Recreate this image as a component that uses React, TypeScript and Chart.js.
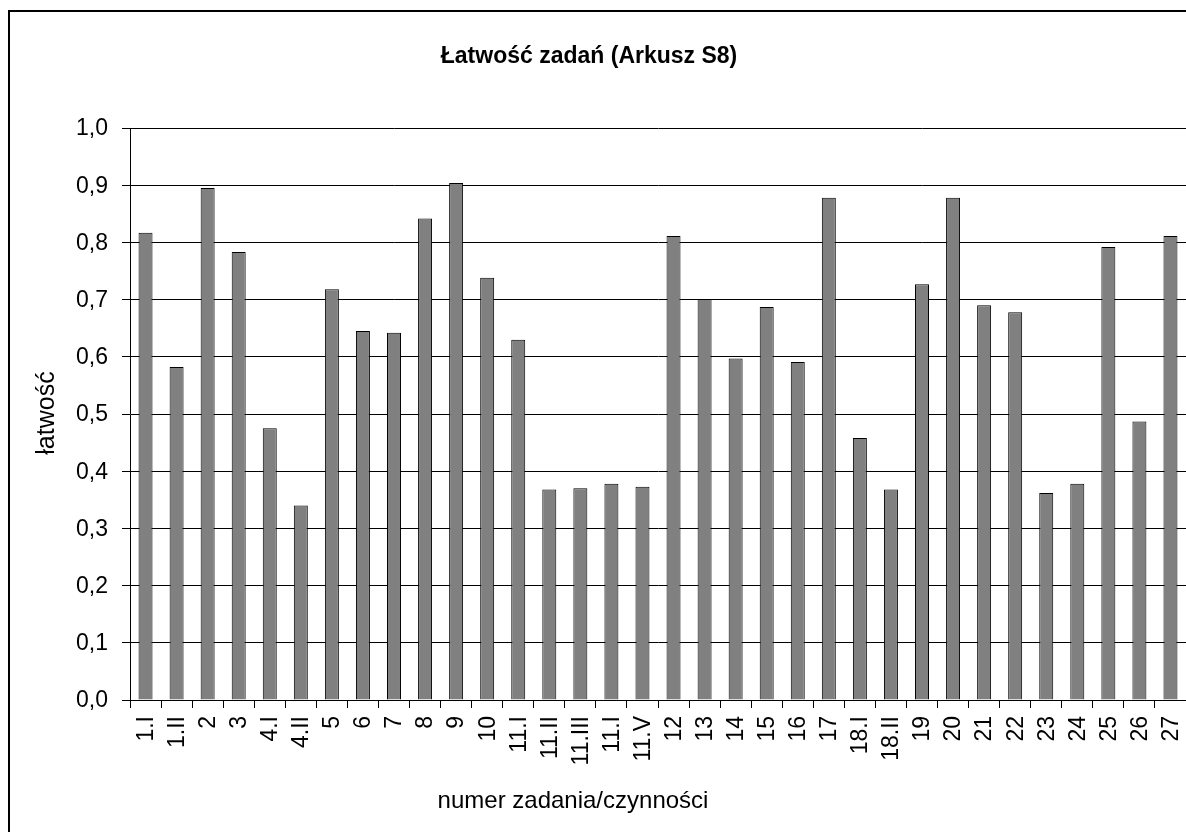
import React, { useEffect, useRef } from "react";
import { Chart, registerables } from "chart.js";

Chart.register(...registerables);

const categories: string[] = [
  "1.I", "1.II", "2", "3", "4.I", "4.II", "5", "6", "7", "8", "9", "10",
  "11.I", "11.II", "11.III", "11.I", "11.V", "12", "13", "14", "15", "16", "17",
  "18.I", "18.II", "19", "20", "21", "22", "23", "24", "25", "26", "27",
];

const easiness: number[] = [
  0.817, 0.582, 0.895, 0.783, 0.475, 0.34, 0.718, 0.645, 0.642, 0.842, 0.904, 0.738,
  0.63, 0.368, 0.37, 0.378, 0.373, 0.811, 0.701, 0.597, 0.687, 0.591, 0.878,
  0.458, 0.368, 0.727, 0.878, 0.69, 0.678, 0.362, 0.378, 0.792, 0.487, 0.811,
];

const chartTitle = "Łatwość zadań (Arkusz S8)";
const xTitle = "numer zadania/czynności";
const yTitle = "łatwość";

const FONT = "'Liberation Sans', Arial, sans-serif";

const fmt = (v: number) => Number(v).toFixed(1).replace(".", ",");

function drawText(
  ctx: CanvasRenderingContext2D,
  text: string,
  x: number,
  y: number,
  align: CanvasTextAlign,
  rotate: boolean
) {
  ctx.save();
  ctx.translate(x, y);
  if (rotate) ctx.rotate(-Math.PI / 2);
  ctx.textAlign = align;
  ctx.textBaseline = "middle";
  ctx.fillText(text, 0, 0);
  ctx.restore();
}

const framePlugin = {
  id: "frame",
  afterDraw(chart: any) {
    const ctx = chart.ctx as CanvasRenderingContext2D;
    ctx.save();
    // outer frame (left and top edges visible)
    ctx.strokeStyle = "#000";
    ctx.lineWidth = 2;
    ctx.beginPath();
    ctx.moveTo(9, 840);
    ctx.lineTo(9, 11);
    ctx.lineTo(1190, 11);
    ctx.stroke();
    ctx.fillStyle = "#000";
    // chart title
    ctx.font = `bold 23px ${FONT}`;
    drawText(ctx, chartTitle, 589, 57, "center", false);
    // x axis title
    ctx.font = `24px ${FONT}`;
    drawText(ctx, xTitle, 573, 801, "center", false);
    // y tick labels
    const ys = chart.scales.y;
    ctx.font = `23px ${FONT}`;
    ys.ticks.forEach((t: any) => {
      drawText(ctx, fmt(t.value), 108, ys.getPixelForValue(t.value) + 1, "right", false);
    });
    // x tick labels
    const xs = chart.scales.x;
    ctx.font = `23px ${FONT}`;
    categories.forEach((c, i) => {
      drawText(ctx, c, xs.getPixelForTick(i) + 1, 716, "right", true);
    });
    // y axis title
    ctx.font = `25px ${FONT}`;
    drawText(ctx, yTitle, 47, 413, "center", true);
    ctx.restore();
  },
};

export default function App() {
  const ref = useRef<HTMLCanvasElement | null>(null);

  useEffect(() => {
    if (!ref.current) return;
    const chart = new Chart(ref.current, {
      type: "bar",
      data: {
        labels: categories,
        datasets: [
          {
            data: easiness,
            backgroundColor: "#808080",
            borderColor: "#000",
            borderWidth: 1,
            barPercentage: 0.45,
            categoryPercentage: 1,
          },
        ],
      },
      options: {
        responsive: false,
        animation: false,
        layout: { padding: { top: 128, right: 0, bottom: 0, left: 0 } },
        plugins: {
          legend: { display: false },
          title: { display: false },
          tooltip: { enabled: false },
        },
        scales: {
          x: {
            afterFit(scale: any) {
              scale.height = 132;
              scale.paddingLeft = 0;
              scale.paddingRight = 0;
            },
            grid: {
              display: true,
              drawOnChartArea: false,
              drawTicks: true,
              tickLength: 8,
              color: "#000",
              offset: true,
            },
            border: { display: true, color: "#000", width: 1 },
            ticks: { display: false, autoSkip: false },
          },
          y: {
            min: 0,
            max: 1,
            afterFit(scale: any) {
              scale.width = 130;
              scale.paddingTop = 0;
              scale.paddingBottom = 0;
            },
            grid: {
              color: "#000",
              lineWidth: 1,
              tickLength: 8,
              drawTicks: true,
            },
            border: { display: true, color: "#000", width: 1 },
            ticks: {
              display: false,
              stepSize: 0.1,
              callback: (v: any) => fmt(v),
            },
          },
        },
      },
      plugins: [framePlugin],
    });
    return () => chart.destroy();
  }, []);

  return (
    <div style={{ position: "absolute", left: 0, top: 0, width: 1186, height: 832, background: "#fff" }}>
      <canvas ref={ref} width={1186} height={832} />
    </div>
  );
}
